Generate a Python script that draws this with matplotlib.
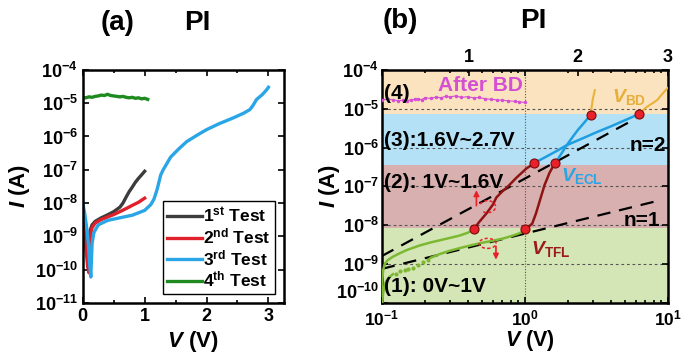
import matplotlib
matplotlib.use('Agg')
import matplotlib.pyplot as plt
import matplotlib.transforms as mtransforms
from matplotlib.patches import Ellipse, Arc
from matplotlib.ticker import MultipleLocator, NullLocator, FixedLocator, FuncFormatter, LogLocator
import numpy as np

plt.rcParams['font.family'] = ['Liberation Sans', 'DejaVu Sans']
plt.rcParams['font.weight'] = 'bold'
plt.rcParams['axes.labelweight'] = 'bold'
plt.rcParams['mathtext.fontset'] = 'custom'
plt.rcParams['mathtext.rm'] = 'Liberation Sans:bold'
plt.rcParams['mathtext.it'] = 'Liberation Sans:italic:bold'
plt.rcParams['mathtext.bf'] = 'Liberation Sans:bold'
plt.rcParams['mathtext.default'] = 'rm'

# ---------------- panel (a) data ----------------
t1_v = [0, 0.03, 0.06, 0.08, 0.1, 0.12, 0.15, 0.2, 0.3, 0.4, 0.5, 0.6, 0.65, 0.7, 0.75, 0.8, 0.85, 0.9, 0.95, 1.0]
t1_i = [4e-9, 1.5e-9, 5e-10, 2e-10, 1.2e-10, 1.5e-9, 2.2e-9, 2.8e-9, 3.6e-9, 4.4e-9, 5.5e-9, 7.5e-9,
        1e-8, 1.5e-8, 2.2e-8, 3e-8, 4.2e-8, 5.5e-8, 7e-8, 9e-8]
t2_v = [0, 0.03, 0.06, 0.08, 0.1, 0.12, 0.15, 0.2, 0.3, 0.4, 0.5, 0.6, 0.7, 0.8, 0.9, 1.0]
t2_i = [2e-9, 8e-10, 3e-10, 1.2e-10, 8e-11, 1e-9, 1.8e-9, 2.5e-9, 3.2e-9, 3.8e-9, 4.5e-9, 5.5e-9,
        6.8e-9, 8.5e-9, 1.05e-8, 1.4e-8]
t3_v = [0, 0.03, 0.06, 0.09, 0.11, 0.13, 0.15, 0.18, 0.25, 0.4, 0.6, 0.8, 1.0, 1.1, 1.15, 1.2, 1.26,
        1.3, 1.42, 1.55, 1.68, 1.85, 2.0, 2.2, 2.43, 2.6, 2.7, 2.75, 2.81, 2.9, 2.97, 3.0]
t3_i = [1e-8, 5e-9, 2e-9, 6e-10, 1.5e-10, 6e-11, 6e-10, 1.3e-9, 2.2e-9, 3e-9, 3.6e-9, 4.3e-9, 6e-9,
        9e-9, 1.3e-8, 2.5e-8, 7e-8, 1e-7, 2.4e-7, 4.2e-7, 7e-7, 1.1e-6, 1.6e-6, 2.4e-6, 3.6e-6,
        5e-6, 6.4e-6, 8.5e-6, 1.3e-5, 1.8e-5, 2.5e-5, 3e-5]
t4_v = [0, 0.05, 0.1, 0.15, 0.2, 0.25, 0.3, 0.35, 0.4, 0.45, 0.5, 0.55, 0.6, 0.65, 0.7, 0.75,
        0.8, 0.85, 0.9, 0.95, 1.0, 1.05]
t4_i = [1.5e-5, 1.45e-5, 1.55e-5, 1.5e-5, 1.6e-5, 1.65e-5, 1.75e-5, 1.7e-5, 1.85e-5, 1.7e-5,
        1.65e-5, 1.6e-5, 1.55e-5, 1.6e-5, 1.5e-5, 1.45e-5, 1.5e-5, 1.4e-5, 1.45e-5, 1.35e-5,
        1.4e-5, 1.3e-5]
legend_labels = [r'1$^{\rm st}$ Test', r'2$^{\rm nd}$ Test', r'3$^{\rm rd}$ Test', r'4$^{\rm th}$ Test']

# ---------------- panel (b) data ----------------
band_edges = [1e-10, 8.5e-9, 3.5e-7, 7.5e-6, 1e-4]
band_colors = ['#D5E6B6', '#D9B0B0', '#B5E1F6', '#FBE3BF']

g_up_v = [0.1, 0.1005, 0.101, 0.1025, 0.105, 0.11, 0.12, 0.134, 0.15, 0.184, 0.22, 0.285, 0.35, 0.40, 0.44]
g_up_i = [1e-10, 2e-10, 4e-10, 7e-10, 1e-9, 1.25e-9, 1.55e-9, 1.9e-9, 2.3e-9, 3e-9, 3.6e-9, 4.5e-9,
          5.4e-9, 6.4e-9, 7.8e-9]
g_lo_v = [0.101, 0.102, 0.104, 0.107, 0.112, 0.12]
g_lo_i = [1e-10, 1.6e-10, 2.5e-10, 3.5e-10, 4.5e-10, 5.5e-10]
g_dot_v = [0.125, 0.135, 0.145, 0.152, 0.165, 0.18, 0.194, 0.21]
g_dot_i = [5.5e-10, 6.5e-10, 7e-10, 7.6e-10, 8e-10, 9.5e-10, 1.1e-9, 1.3e-9]
g_lo2_v = [0.22, 0.254, 0.3, 0.37, 0.48, 0.6, 0.7, 0.8, 0.9, 0.97, 1.0]
g_lo2_i = [1.45e-9, 1.8e-9, 2.2e-9, 2.7e-9, 3.4e-9, 4e-9, 4.5e-9, 5.2e-9, 6e-9, 6.8e-9, 7.8e-9]

r1_v = [0.44, 0.48, 0.54, 0.6, 0.635, 0.7, 0.75, 0.82, 0.88, 0.95, 1.03, 1.1, 1.17]
r1_i = [7.8e-9, 1.2e-8, 2e-8, 3.4e-8, 5.2e-8, 7.5e-8, 9.3e-8, 1.3e-7, 1.7e-7, 2.2e-7, 2.9e-7, 3.4e-7, 4e-7]
r2_v = [1.0, 1.06, 1.13, 1.2, 1.28, 1.33, 1.38, 1.44, 1.49, 1.56, 1.64]
r2_i = [7.8e-9, 9e-9, 1.1e-8, 2e-8, 4.4e-8, 7e-8, 1.1e-7, 1.6e-7, 2.2e-7, 3e-7, 4e-7]

b1_v = [1.17, 1.4, 1.7, 1.97, 2.5, 3.2, 4.0, 5.0, 6.27]
b1_i = [4e-7, 5.7e-7, 8.4e-7, 1.15e-6, 1.68e-6, 2.5e-6, 3.5e-6, 5e-6, 7.2e-6]
b2_v = [1.64, 1.75, 1.85, 1.97, 2.15, 2.35, 2.6, 2.89]
b2_i = [4e-7, 5.8e-7, 8e-7, 1.15e-6, 1.8e-6, 2.8e-6, 4.3e-6, 6.9e-6]

o1_v = [2.89, 2.93, 2.97, 3.0, 3.05, 3.1]
o1_i = [7e-6, 1e-5, 1.4e-5, 1.8e-5, 2.3e-5, 3e-5]
o2_v = [6.27, 6.6, 7.0, 7.5, 8.0, 8.5, 8.8, 9.2, 9.6, 10.0]
o2_i = [7.2e-6, 8.5e-6, 1.05e-5, 1.25e-5, 1.45e-5, 1.7e-5, 2e-5, 2.4e-5, 2.9e-5, 3.4e-5]

bd_v = [0.10, 0.11, 0.12, 0.13, 0.14, 0.15, 0.16, 0.17, 0.18, 0.19, 0.20, 0.22, 0.24, 0.26, 0.28,
        0.30, 0.33, 0.36, 0.40, 0.44, 0.48, 0.53, 0.58, 0.64, 0.70, 0.77, 0.85, 0.92, 1.0]
bd_i = [1.7e-5, 1.75e-5, 1.7e-5, 1.6e-5, 1.65e-5, 1.6e-5, 1.7e-5, 1.75e-5, 1.8e-5, 1.7e-5, 1.9e-5,
        1.85e-5, 2.0e-5, 1.9e-5, 2.1e-5, 2.0e-5, 2.15e-5, 1.95e-5, 2.05e-5, 1.9e-5, 1.95e-5,
        1.8e-5, 1.75e-5, 1.7e-5, 1.65e-5, 1.6e-5, 1.55e-5, 1.5e-5, 1.45e-5]

dot_v = [0.44, 1.0, 1.17, 1.64, 2.89, 6.27]
dot_i = [7.8e-9, 7.8e-9, 4e-7, 4e-7, 6.9e-6, 7.2e-6]

n2_v = [0.1, 6.0]
n2_i = [1.6e-9, 5.6e-6]
n1_v = [0.1, 8.0]
n1_i = [7.5e-10, 4e-8]

top_ticks = [0.41, 2.35, 10.0]
top_labels = ['1', '2', '3']

# ---------------- figure ----------------
fig = plt.figure(figsize=(6.84, 3.53), dpi=100)
ax1 = fig.add_axes([0.121, 0.142, 0.294, 0.66])
ax2 = fig.add_axes([0.558, 0.142, 0.418, 0.66])

sci = FuncFormatter(lambda v, p: r'$10^{%d}$' % round(np.log10(v)))

# panel (a)
ax1.plot(t1_v, t1_i, color='#3C3C3C', lw=2.4, label=legend_labels[0])
ax1.plot(t2_v, t2_i, color='#E0202A', lw=2.4, label=legend_labels[1])
ax1.plot(t3_v, t3_i, color='#2AA5E6', lw=2.4, label=legend_labels[2])
ax1.plot(t4_v, t4_i, color='#1F8A1F', lw=2.4, label=legend_labels[3])
ax1.set_yscale('log')
ax1.set_xlim(0, 3.25)
ax1.set_ylim(1e-11, 1e-4)
ax1.xaxis.set_major_locator(MultipleLocator(1))
ax1.xaxis.set_minor_locator(MultipleLocator(0.5))
ax1.yaxis.set_major_locator(LogLocator(base=10, numticks=20))
ax1.yaxis.set_minor_locator(NullLocator())
ax1.yaxis.set_major_formatter(sci)
leg = ax1.legend(loc='lower right', fontsize=12.5, handlelength=2.0, handletextpad=0.1,
                 labelspacing=0.1, borderpad=0.25, borderaxespad=0.5, fancybox=False,
                 edgecolor='black', framealpha=1)
leg.get_frame().set_linewidth(1.0)
ax1.set_xlabel(r'$\it{V}$ (V)', fontsize=16)
ax1.set_ylabel(r'$\it{I}$ (A)', fontsize=16)
ax1.xaxis.set_label_coords(0.547, -0.11)
ax1.yaxis.set_label_coords(-0.25, 0.5)

# panel (b)
for k in range(len(band_colors)):
    ax2.axhspan(band_edges[k], band_edges[k + 1], color=band_colors[k], lw=0, zorder=0)
for e in [1e-9, 1e-8, 1e-7, 1e-6, 1e-5]:
    ax2.axhline(e, color='#555555', lw=0.8, ls=(0, (2.5, 2.5)), zorder=1)
ax2.axvline(1.0, color='#555555', lw=0.8, ls=(0, (1, 1.5)), zorder=1)

ax2.plot(n2_v, n2_i, color='black', lw=1.6, ls=(0, (6, 4)), zorder=2)
ax2.plot(n1_v, n1_i, color='black', lw=1.6, ls=(0, (6, 4)), zorder=2)

ax2.plot(bd_v, bd_i, color='#D44FD4', lw=0.8, marker='.', ms=3, zorder=3)
ax2.plot(g_up_v, g_up_i, color='#7DB832', lw=1.8, zorder=3)
ax2.plot(g_lo_v, g_lo_i, color='#7DB832', lw=1.8, zorder=3)
ax2.plot(g_dot_v, g_dot_i, color='#7DB832', ls='none', marker='.', ms=4, zorder=3)
ax2.plot(g_lo2_v, g_lo2_i, color='#7DB832', lw=1.8, zorder=3)
ax2.plot(r1_v, r1_i, color='#8E1414', lw=1.8, zorder=3)
ax2.plot(r2_v, r2_i, color='#8E1414', lw=1.8, zorder=3)
ax2.plot(b1_v, b1_i, color='#1E9EE0', lw=1.8, zorder=3)
ax2.plot(b2_v, b2_i, color='#1E9EE0', lw=1.8, zorder=3)
ax2.plot(o1_v, o1_i, color='#EBB23A', lw=1.5, zorder=3)
ax2.plot(o2_v, o2_i, color='#EBB23A', lw=1.5, zorder=3)
ax2.plot(dot_v, dot_i, ls='none', marker='o', ms=6.5, mfc='#E8202A', mec='#7A0A0A', mew=0.8, zorder=4)

# red arrows and dashed ellipses
ax2.annotate('', xy=(0.46, 9.4e-8), xytext=(0.46, 2.7e-8),
             arrowprops=dict(arrowstyle='-|>', color='#E8202A', lw=1.2, mutation_scale=8), zorder=5)
ax2.annotate('', xy=(0.63, 1.1e-9), xytext=(0.63, 3.4e-9),
             arrowprops=dict(arrowstyle='-|>', color='#E8202A', lw=1.2, mutation_scale=8), zorder=5)
tr1 = fig.dpi_scale_trans + mtransforms.ScaledTranslation(0.55, 3.0e-8, ax2.transData)
ax2.add_patch(Arc((0, 0), 0.16, 0.12, theta1=-130, theta2=160, transform=tr1, color='#E8202A',
                  lw=1.1, ls=(0, (2, 1.5)), zorder=5))
tr2 = fig.dpi_scale_trans + mtransforms.ScaledTranslation(0.55, 3.4e-9, ax2.transData)
ax2.add_patch(Ellipse((0, 0), 0.17, 0.10, transform=tr2, fill=False, edgecolor='#E8202A',
                      lw=1.1, ls=(0, (2, 1.5)), zorder=5))

txt = 15
ax2.text(0.104, 2.5e-5, '(4)', fontsize=txt, va='center', ha='left', zorder=6)
ax2.text(0.246, 3.9e-5, 'After BD', fontsize=txt, color='#D44FD4', va='center', ha='left', zorder=6)
ax2.text(0.104, 1.55e-6, '(3):1.6V~2.7V', fontsize=txt, va='center', ha='left', zorder=6)
ax2.text(0.104, 1.26e-7, '(2): 1V~1.6V', fontsize=txt, va='center', ha='left', zorder=6)
ax2.text(0.104, 2.6e-10, '(1): 0V~1V', fontsize=txt, va='center', ha='left', zorder=6)
ax2.text(9.8, 1.1e-6, 'n=2', fontsize=txt, va='center', ha='right', zorder=6)
ax2.text(8.9, 1.3e-8, 'n=1', fontsize=txt, va='center', ha='right', zorder=6)
ax2.text(1.1, 2.5e-9, r'$\it{V}_{\rm TFL}$', fontsize=14, color='#9B1B1B', va='center', ha='left', zorder=6)
ax2.text(1.8, 1.9e-7, r'$\it{V}_{\rm ECL}$', fontsize=14, color='#2AA5E6', va='center', ha='left', zorder=6)
ax2.text(4.06, 2e-5, r'$\it{V}_{\rm BD}$', fontsize=14, color='#E6AE3A', va='center', ha='left', zorder=6)

ax2.set_xscale('log')
ax2.set_yscale('log')
ax2.set_xlim(0.1, 10)
ax2.set_ylim(1e-10, 1e-4)
ax2.xaxis.set_major_formatter(sci)
ax2.yaxis.set_major_formatter(sci)
ax2.yaxis.set_major_locator(LogLocator(base=10, numticks=20))
ax2.yaxis.set_minor_locator(NullLocator())
ax2.set_xlabel(r'$\it{V}$ (V)', fontsize=15.5)
ax2.set_ylabel(r'$\it{I}$ (A)', fontsize=16)
ax2.xaxis.set_label_coords(0.517, -0.108)
ax2.yaxis.set_label_coords(-0.14, 0.5)

axt = ax2.twiny()
axt.set_xscale('log')
axt.set_xlim(0.1, 10)
axt.xaxis.set_major_locator(FixedLocator(top_ticks))
axt.xaxis.set_minor_locator(NullLocator())
axt.set_xticklabels(top_labels)
axt.tick_params(axis='x', direction='in', labelsize=13, length=4, width=1.2, pad=3)

for ax in (ax1, ax2):
    for sp in ax.spines.values():
        sp.set_linewidth(1.8)
    ax.tick_params(which='both', direction='in', top=True, right=True, labelsize=13, width=1.2)
    ax.tick_params(which='major', length=4)
    ax.tick_params(which='minor', length=2.5)
ax2.tick_params(axis='x', which='major', pad=4, labelsize=12.5)
ax2.tick_params(axis='y', which='major', pad=2)
for sp in axt.spines.values():
    sp.set_visible(False)

fig.text(0.172, 0.935, '(a)', fontsize=20, ha='center', va='center')
fig.text(0.288, 0.935, 'PI', fontsize=20, ha='center', va='center')
fig.text(0.585, 0.94, '(b)', fontsize=20, ha='center', va='center')
fig.text(0.779, 0.94, 'PI', fontsize=20, ha='center', va='center')

# lift the lowest y label of (b) a little so it clears the 10^-1 label
fig.canvas.draw()
for t in ax2.yaxis.get_major_ticks():
    if abs(t.get_loc() - 1e-10) < 1e-12:
        t.label1.set_va('bottom')

fig.savefig('out.png', dpi=100)
